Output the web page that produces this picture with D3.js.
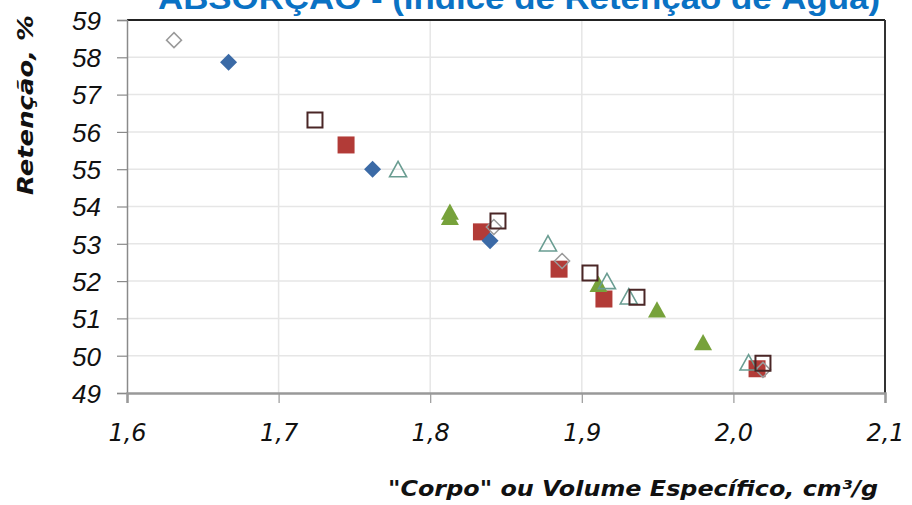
<!DOCTYPE html>
<html>
<head>
<meta charset="utf-8">
<script src="https://cdn.jsdelivr.net/npm/d3@7"></script>
<style>
  html, body { margin: 0; padding: 0; background: #fff; }
  svg { display: block; }
</style>
</head>
<body>
<svg id="chart" width="912" height="505"></svg>
<script>
// Axis ticks
const xTicks = [1.6, 1.7, 1.8, 1.9, 2.0, 2.1];
const xTickLabels = ["1,6", "1,7", "1,8", "1,9", "2,0", "2,1"];
const yTicks = [49, 50, 51, 52, 53, 54, 55, 56, 57, 58, 59];

// Series: specific volume (cm³/g) vs water retention (%)
const blueDiamondX = [1.667, 1.762, 1.8395];
const blueDiamondY = [57.87, 55.0, 53.08];

const redSquareX = [1.7445, 1.8338, 1.885, 1.9146, 2.0156];
const redSquareY = [55.65, 53.32, 52.32, 51.52, 49.65];

const greenTriangleX = [1.813, 1.813, 1.911, 1.9496, 1.98];
const greenTriangleY = [53.84, 53.7, 51.9, 51.22, 50.34];

const openDiamondX = [1.631, 1.842, 1.887, 2.0195];
const openDiamondY = [58.46, 53.45, 52.54, 49.62];

const openTriangleX = [1.7788, 1.8777, 1.9166, 1.931, 2.01];
const openTriangleY = [54.98, 52.99, 51.98, 51.57, 49.8];

const openSquareX = [1.724, 1.8447, 1.9054, 1.9364, 2.0195];
const openSquareY = [56.32, 53.61, 52.22, 51.57, 49.8];

const svg = d3.select("#chart");
const plotLeft = 127, plotRight = 885, plotTop = 20, plotBottom = 393;

const x = d3.scaleLinear().domain([1.6, 2.1]).range([plotLeft, plotRight]);
const y = d3.scaleLinear().domain([49, 59]).range([plotBottom, plotTop]);

// Title (runs off the top edge of the page)
svg.append("text")
  .attr("x", 158).attr("y", 9)
  .attr("font-family", "Liberation Sans, Arial, sans-serif")
  .attr("font-weight", "bold")
  .attr("font-size", 31)
  .attr("fill", "#0a72c4")
  .attr("textLength", 722)
  .attr("lengthAdjust", "spacingAndGlyphs")
  .text("ABSORÇÃO - (Índice de Retenção de Água)");

// Grid
const grid = svg.append("g");
grid.selectAll("line.v").data(xTicks.slice(1, -1)).join("line")
  .attr("x1", d => x(d)).attr("x2", d => x(d))
  .attr("y1", plotTop).attr("y2", plotBottom)
  .attr("stroke", "#e6e6e6").attr("stroke-width", 1.5);
grid.selectAll("line.h").data(yTicks.slice(1, -1)).join("line")
  .attr("x1", plotLeft).attr("x2", plotRight)
  .attr("y1", d => y(d)).attr("y2", d => y(d))
  .attr("stroke", "#e6e6e6").attr("stroke-width", 1.5);

// Frame top/right
svg.append("line").attr("x1", plotLeft).attr("x2", plotRight).attr("y1", plotTop).attr("y2", plotTop)
  .attr("stroke", "#222").attr("stroke-width", 2);
svg.append("line").attr("x1", plotRight).attr("x2", plotRight).attr("y1", plotTop).attr("y2", plotBottom)
  .attr("stroke", "#333").attr("stroke-width", 2);

// Axes
const yAxis = d3.axisLeft(y).tickValues(yTicks).tickSize(10).tickFormat(d3.format("d"));
const yg = svg.append("g").attr("transform", `translate(${plotLeft},0)`).call(yAxis);
yg.attr("font-size", null).attr("font-family", null);
yg.select(".domain").attr("stroke", "#8a8a8a").attr("stroke-width", 1.5);
yg.selectAll(".tick line").attr("stroke", "#8a8a8a").attr("stroke-width", 1.2);
yg.selectAll(".tick text")
  .attr("x", -26)
  .attr("dy", "0.36em")
  .style("font-family", "Liberation Sans, Arial, sans-serif")
  .style("font-style", "italic")
  .style("font-size", "26px")
  .attr("fill", "#111");

const xAxis = d3.axisBottom(x).tickValues(xTicks).tickSize(10)
  .tickFormat((d, i) => xTickLabels[i]);
const xg = svg.append("g").attr("transform", `translate(0,${plotBottom})`).call(xAxis);
xg.attr("font-size", null).attr("font-family", null);
xg.select(".domain").attr("stroke", "#999").attr("stroke-width", 2.5);
xg.selectAll(".tick line").attr("stroke", "#999").attr("stroke-width", 1.2);
xg.selectAll(".tick text")
  .attr("y", 31)
  .style("font-family", "DejaVu Sans, sans-serif")
  .style("font-style", "italic")
  .style("font-size", "24px")
  .attr("fill", "#111");

// Axis titles
svg.append("text")
  .attr("transform", "translate(33,105) rotate(-90)")
  .attr("text-anchor", "middle")
  .attr("font-family", "DejaVu Sans, sans-serif")
  .attr("font-weight", "bold")
  .attr("font-style", "italic")
  .attr("font-size", 22)
  .attr("fill", "#111")
  .attr("textLength", 180)
  .attr("lengthAdjust", "spacingAndGlyphs")
  .text("Retenção, %");

svg.append("text")
  .attr("x", 878).attr("y", 496)
  .attr("text-anchor", "end")
  .attr("font-family", "DejaVu Sans, sans-serif")
  .attr("font-weight", "bold")
  .attr("font-style", "italic")
  .attr("font-size", 22)
  .attr("fill", "#111")
  .attr("textLength", 490)
  .attr("lengthAdjust", "spacingAndGlyphs")
  .text("\"Corpo\" ou Volume Específico, cm³/g");

// Marker shapes (centered at origin)
const diamond = r => `M0,${-r}L${r},0L0,${r}L${-r},0Z`;
const square = r => `M${-r},${-r}H${r}V${r}H${-r}Z`;
const triangle = r => `M0,${-r}L${r},${r * 0.8}L${-r},${r * 0.8}Z`;

function drawSeries(xs, ys, shape, r, fill, stroke, sw) {
  svg.append("g").selectAll("path").data(xs.map((v, i) => [v, ys[i]])).join("path")
    .attr("transform", d => `translate(${x(d[0])},${y(d[1])})`)
    .attr("d", shape(r))
    .attr("fill", fill)
    .attr("stroke", stroke)
    .attr("stroke-width", sw);
}

drawSeries(redSquareX, redSquareY, square, 8.5, "#b23b37", "none", 0);
drawSeries(blueDiamondX, blueDiamondY, diamond, 8.5, "#3b6aa6", "none", 0);
drawSeries(greenTriangleX, greenTriangleY, triangle, 9, "#77a23b", "none", 0);
drawSeries(openDiamondX, openDiamondY, diamond, 7.5, "none", "#9a9a9a", 1.5);
drawSeries(openTriangleX, openTriangleY, triangle, 8.5, "none", "#6a9d92", 1.6);
drawSeries(openSquareX, openSquareY, square, 7.5, "none", "#4a2626", 2);
</script>
</body>
</html>
